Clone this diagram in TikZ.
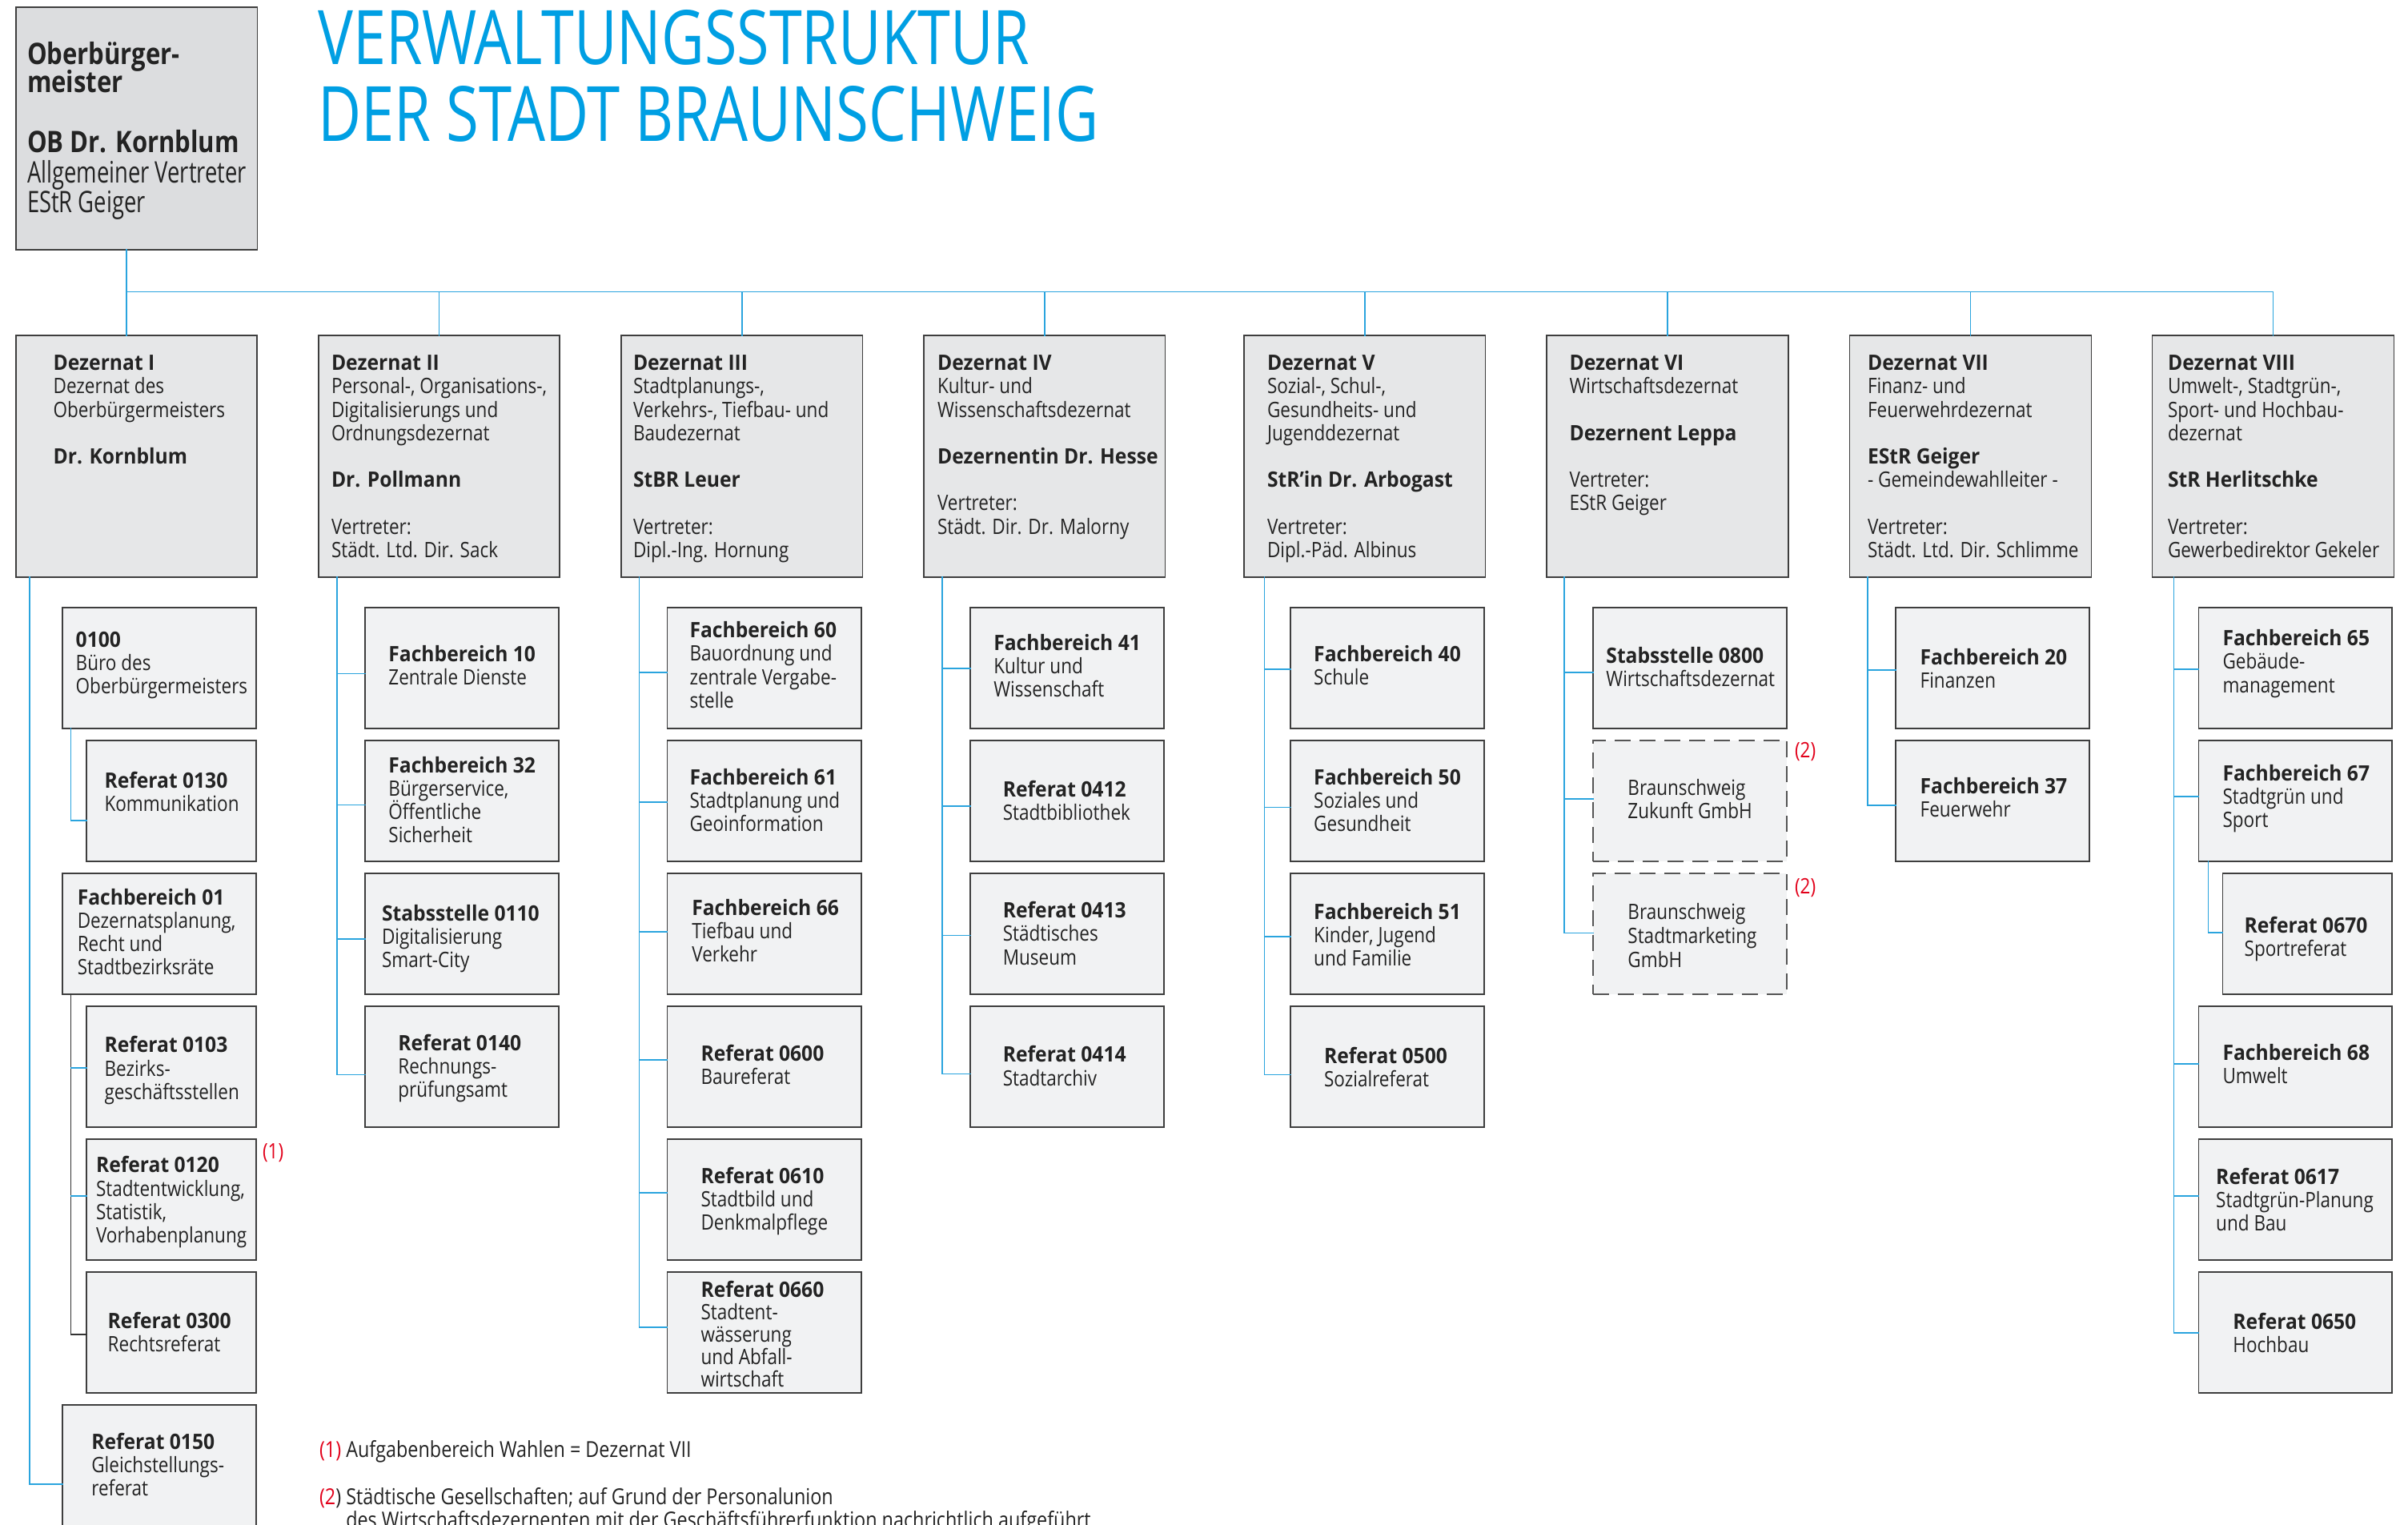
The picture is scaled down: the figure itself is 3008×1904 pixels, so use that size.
\documentclass[tikz,border=0pt]{standalone}
\usepackage{fontspec}
\usepackage{graphicx}
\setmainfont{Open Sans}[FakeStretch=0.85]
\newfontfamily\bdfam{Open Sans}[FakeStretch=0.93]
\newfontfamily\obfam{Open Sans}[FakeStretch=0.74]
\newfontfamily\obbdfam{Open Sans}[FakeStretch=0.84]
\newfontfamily\titlefam{Open Sans}
\definecolor{titleblue}{HTML}{009FE3}
\definecolor{connblue}{HTML}{2AA4DE}
\definecolor{boxline}{HTML}{3E3E3E}
\definecolor{dashline}{HTML}{555555}
\definecolor{obfill}{HTML}{DCDDDF}
\definecolor{dzfill}{HTML}{E6E7E8}
\definecolor{subfill}{HTML}{F1F2F3}
\definecolor{txtc}{HTML}{232323}
\definecolor{fnred}{HTML}{E2001A}
\definecolor{darkconn}{HTML}{333333}
\newcommand\B[1]{{\bdfam\bfseries #1}}
\newcommand\OB[1]{{\obbdfam\bfseries #1}}
\newcommand\lns[2][29.2]{\vtop{\baselineskip=#1pt\lineskiplimit=-1000pt\lineskip=0pt\halign{##\hfil\cr#2\crcr}}}
\newcommand\mkbox[5]{\node[#5, minimum width=#4pt] (#1) at (#2,#3) {};}
\newcommand\mktext[5][29.2]{\node[txt] (t#2) at (#3,#4) {\lns[#1]{#5}};}
\newcommand\mkstub[3]{\path ([yshift=#2pt]#1.west) ++(-#3,0) coordinate (e#1); \draw[conn] (e#1) -- (e#1 -| #1.west);}
\tikzset{
  basebox/.style={draw=boxline, line width=1.8pt, anchor=north west, inner sep=0pt, outer sep=0pt},
  obbox/.style={basebox, fill=obfill, minimum height=302.7pt},
  dzbox/.style={basebox, fill=dzfill, minimum height=302.3pt},
  subbox/.style={basebox, fill=subfill, minimum height=151.5pt},
  gbox/.style={subbox, draw=dashline, dash pattern=on 20pt off 11pt},
  txt/.style={anchor=base west, inner sep=0pt, outer sep=0pt, text=txtc, font=\fontsize{26.5}{29.2}\selectfont},
  fntxt/.style={anchor=base west, inner sep=0pt, outer sep=0pt, text=txtc, font=\fontsize{27.5}{29.5}\selectfont},
  obtxt/.style={anchor=base west, inner sep=0pt, outer sep=0pt, text=txtc, font=\obfam\fontsize{37}{37.5}\selectfont},
  redmark/.style={anchor=base west, inner sep=0pt, outer sep=0pt, text=fnred, font=\fontsize{26.5}{29.2}\selectfont},
  conn/.style={draw=connblue, line width=1.6pt, line cap=rect},
  dconn/.style={draw=darkconn, line width=1.6pt, line cap=rect},
}
\begin{document}
\begin{tikzpicture}[x=1pt,y=-1pt]
\useasboundingbox (0,0) rectangle (3008,1904);
\fill[white] (0,0) rectangle (3008,1904);

% Title
\node[anchor=base west, inner sep=0pt, text=titleblue] (title1) at (397,80) {\resizebox{889pt}{68pt}{\titlefam VERWALTUNGSSTRUKTUR}};
\node[anchor=base west, inner sep=0pt, text=titleblue] (title2) at (397,176) {\resizebox{975pt}{69pt}{\titlefam DER STADT BRAUNSCHWEIG}};

% Oberbuergermeister
\node[obbox, minimum width=301.8pt] (ob) at (19.6,9) {};
\node[obtxt] (tob1) at (34,80) {\lns[35]{\OB{Oberbürger-}\cr\OB{meister}}};
\node[obtxt] (tob2) at (34,190.7) {\lns[37.5]{\OB{OB Dr. Kornblum}\cr Allgemeiner Vertreter\cr EStR Geiger}};

% Dezernate
\mkbox{dz1}{19.6}{418.7}{301.5}{dzbox}
\mkbox{dz2}{397.8}{418.7}{301.5}{dzbox}
\mkbox{dz3}{776}{418.7}{301.5}{dzbox}
\mkbox{dz4}{1154}{418.7}{301.5}{dzbox}
\mkbox{dz5}{1554}{418.7}{301.5}{dzbox}
\mkbox{dz6}{1932}{418.7}{302}{dzbox}
\mkbox{dz7}{2310.5}{418.7}{302}{dzbox}
\mkbox{dz8}{2688.5}{418.7}{302}{dzbox}

\mktext{dz1}{66.6}{462.7}{\B{Dezernat I}\cr Dezernat des\cr Oberbürgermeisters\cr\cr \B{Dr. Kornblum}}
\mktext{dz2}{414}{462.7}{\B{Dezernat II}\cr Personal-, Organisations-,\cr Digitalisierungs und\cr Ordnungsdezernat\cr\cr \B{Dr. Pollmann}\cr\cr Vertreter:\cr Städt. Ltd. Dir. Sack}
\mktext{dz3}{791}{462.7}{\B{Dezernat III}\cr Stadtplanungs-,\cr Verkehrs-, Tiefbau- und\cr Baudezernat\cr\cr \B{StBR Leuer}\cr\cr Vertreter:\cr Dipl.-Ing. Hornung}
\mktext{dz4}{1171}{462.7}{\B{Dezernat IV}\cr Kultur- und\cr Wissenschaftsdezernat\cr\cr \B{Dezernentin Dr. Hesse}\cr\cr Vertreter:\cr Städt. Dir. Dr. Malorny}
\mktext{dz5}{1583}{462.7}{\B{Dezernat V}\cr Sozial-, Schul-,\cr Gesundheits- und\cr Jugenddezernat\cr\cr \B{StR’in Dr. Arbogast}\cr\cr Vertreter:\cr Dipl.-Päd. Albinus}
\mktext{dz6}{1960.5}{462.7}{\B{Dezernat VI}\cr Wirtschaftsdezernat\cr\cr \B{Dezernent Leppa}\cr\cr Vertreter:\cr EStR Geiger}
\mktext{dz7}{2333}{462.7}{\B{Dezernat VII}\cr Finanz- und\cr Feuerwehrdezernat\cr\cr \B{EStR Geiger}\cr - Gemeindewahlleiter -\cr\cr Vertreter:\cr Städt. Ltd. Dir. Schlimme}
\mktext{dz8}{2708}{462.7}{\B{Dezernat VIII}\cr Umwelt-, Stadtgrün-,\cr Sport- und Hochbau-\cr dezernat\cr\cr \B{StR Herlitschke}\cr\cr Vertreter:\cr Gewerbedirektor Gekeler}

% Top connectors
\coordinate (hl) at (157.8,364.5);
\coordinate (hr) at (dz8.north |- hl);
\draw[conn] (ob.south -| hl) -- (hl) -- (hr);
\draw[conn] (dz1.north -| hl) -- (hl);
\foreach \d in {dz2,dz3,dz4,dz5,dz6,dz7,dz8} {\draw[conn] (\d.north) -- (\d.north |- hl);}

% Column 1
\mkbox{b0100}{78}{758.7}{242}{subbox}
\mkbox{r0130}{108}{924.7}{212}{subbox}
\mkbox{f01}{78}{1090.7}{242}{subbox}
\mkbox{r0103}{108}{1256.7}{212}{subbox}
\mkbox{r0120}{108}{1422.7}{212}{subbox}
\mkbox{r0300}{108}{1588.7}{212}{subbox}
\mkbox{r0150}{78}{1754.7}{242}{subbox}
\mktext{b0100}{94.7}{808.3}{\B{0100}\cr Büro des\cr Oberbürgermeisters}
\mktext{r0130}{130.5}{984.3}{\B{Referat 0130}\cr Kommunikation}
\mktext{f01}{96.8}{1130}{\B{Fachbereich 01}\cr Dezernatsplanung,\cr Recht und\cr Stadtbezirksräte}
\mktext{r0103}{130.5}{1314.8}{\B{Referat 0103}\cr Bezirks-\cr geschäftsstellen}
\mktext{r0120}{120}{1464.9}{\B{Referat 0120}\cr Stadtentwicklung,\cr Statistik,\cr Vorhabenplanung}
\mktext{r0300}{134.7}{1659.2}{\B{Referat 0300}\cr Rechtsreferat}
\mktext{r0150}{114.3}{1810.2}{\B{Referat 0150}\cr Gleichstellungs-\cr referat}
\node[redmark] (m1) at (328,1447) {(1)};
\mkstub{r0150}{-23.55}{40.8}
\draw[conn] (dz1.south -| er0150) -- (er0150);
\mkstub{r0130}{-24.5}{19.6}
\draw[conn] (b0100.south -| er0130) -- (er0130);
\path ([yshift=-2.55pt]r0300.west) ++(-19.6,0) coordinate (er0300);
\draw[dconn] (f01.south -| er0300) -- (er0300) -- (er0300 -| r0300.west);
\mkstub{r0103}{-1.75}{19.6}
\mkstub{r0120}{4.45}{19.6}

% Column 2
\mkbox{f10}{456}{758.7}{242}{subbox}
\mkbox{f32}{456}{924.7}{242}{subbox}
\mkbox{s0110}{456}{1090.7}{242}{subbox}
\mkbox{r0140}{456}{1256.7}{242}{subbox}
\mktext{f10}{485.4}{826.7}{\B{Fachbereich 10}\cr Zentrale Dienste}
\mktext{f32}{485.4}{965}{\B{Fachbereich 32}\cr Bürgerservice,\cr Öffentliche\cr Sicherheit}
\mktext{s0110}{477}{1150}{\B{Stabsstelle 0110}\cr Digitalisierung\cr Smart-City}
\mktext{r0140}{497.4}{1312.5}{\B{Referat 0140}\cr Rechnungs-\cr prüfungsamt}
\mkstub{f10}{-6.85}{35}
\mkstub{f32}{-4.85}{35}
\mkstub{s0110}{-6.25}{35}
\mkstub{r0140}{-10.05}{35}
\draw[conn] (dz2.south -| ef10) -- (er0140);

% Column 3
\mkbox{f60}{833.4}{758.7}{242.6}{subbox}
\mkbox{f61}{833.4}{924.7}{242.6}{subbox}
\mkbox{f66}{833.4}{1090.7}{242.6}{subbox}
\mkbox{r0600}{833.4}{1256.7}{242.6}{subbox}
\mkbox{r0610}{833.4}{1422.7}{242.6}{subbox}
\mkbox{r0660}{833.4}{1588.7}{242.6}{subbox}
\mktext{f60}{861.5}{796.7}{\B{Fachbereich 60}\cr Bauordnung und\cr zentrale Vergabe-\cr stelle}
\mktext{f61}{861.5}{980}{\B{Fachbereich 61}\cr Stadtplanung und\cr Geoinformation}
\mktext{f66}{864.3}{1143.3}{\B{Fachbereich 66}\cr Tiefbau und\cr Verkehr}
\mktext{r0600}{875.5}{1325}{\B{Referat 0600}\cr Baureferat}
\mktext{r0610}{875.5}{1478.2}{\B{Referat 0610}\cr Stadtbild und\cr Denkmalpflege}
\mktext[28.2]{r0660}{875.5}{1620}{\B{Referat 0660}\cr Stadtent-\cr wässerung\cr und Abfall-\cr wirtschaft}
\mkstub{f60}{-5.25}{35.1}
\mkstub{f61}{-1.25}{35.1}
\mkstub{f66}{2.45}{35.1}
\mkstub{r0600}{8.45}{35.1}
\mkstub{r0610}{8.45}{35.1}
\mkstub{r0660}{6.45}{35.1}
\draw[conn] (dz3.south -| ef60) -- (er0660);

% Column 4
\mkbox{f41}{1212}{758.7}{242.3}{subbox}
\mkbox{r0412}{1212}{924.7}{242.3}{subbox}
\mkbox{r0413}{1212}{1090.7}{242.3}{subbox}
\mkbox{r0414}{1212}{1256.7}{242.3}{subbox}
\mktext{f41}{1241.3}{812.3}{\B{Fachbereich 41}\cr Kultur und\cr Wissenschaft}
\mktext{r0412}{1252.8}{995}{\B{Referat 0412}\cr Stadtbibliothek}
\mktext{r0413}{1252.8}{1146.7}{\B{Referat 0413}\cr Städtisches\cr Museum}
\mktext{r0414}{1252.8}{1326.8}{\B{Referat 0414}\cr Stadtarchiv}
\mkstub{f41}{-0.25}{35}
\mkstub{r0412}{-6.25}{35}
\mkstub{r0413}{-1.85}{35}
\mkstub{r0414}{-9.15}{35}
\draw[conn] (dz4.south -| ef41) -- (er0414);

% Column 5
\mkbox{f40}{1612}{758.7}{242.2}{subbox}
\mkbox{f50}{1612}{924.7}{242.2}{subbox}
\mkbox{f51}{1612}{1090.7}{242.2}{subbox}
\mkbox{r0500}{1612}{1256.7}{242.2}{subbox}
\mktext{f40}{1641.2}{826}{\B{Fachbereich 40}\cr Schule}
\mktext{f50}{1641.2}{980}{\B{Fachbereich 50}\cr Soziales und\cr Gesundheit}
\mktext{f51}{1641.2}{1148.3}{\B{Fachbereich 51}\cr Kinder, Jugend\cr und Familie}
\mktext{r0500}{1654}{1328.7}{\B{Referat 0500}\cr Sozialreferat}
\mkstub{f40}{-1.55}{32.7}
\mkstub{f50}{-7.85}{32.7}
\mkstub{f51}{-3.55}{32.7}
\mkstub{r0500}{-10.05}{32.7}
\draw[conn] (dz5.south -| ef40) -- (er0500);

% Column 6
\mkbox{s0800}{1990}{758.7}{242}{subbox}
\mkbox{gz}{1990}{924.7}{242}{gbox}
\mkbox{gs}{1990}{1090.7}{242}{gbox}
\mktext{s0800}{2006.4}{828.3}{\B{Stabsstelle 0800}\cr Wirtschaftsdezernat}
\mktext{gz}{2033.4}{993.3}{Braunschweig\cr Zukunft GmbH}
\mktext[30]{gs}{2033.4}{1148.3}{Braunschweig\cr Stadtmarketing\cr GmbH}
\node[redmark] (m2a) at (2242,946.7) {(2)};
\node[redmark] (m2b) at (2242,1116.7) {(2)};
\mkstub{s0800}{-5.55}{36.3}
\mkstub{gz}{2.75}{36.3}
\mkstub{gs}{1.15}{36.3}
\draw[conn] (dz6.south -| es0800) -- (egs);

% Column 7
\mkbox{f20}{2368.3}{758.7}{241.7}{subbox}
\mkbox{f37}{2368.3}{924.7}{241.7}{subbox}
\mktext{f20}{2398.6}{830}{\B{Fachbereich 20}\cr Finanzen}
\mktext{f37}{2398.6}{991}{\B{Fachbereich 37}\cr Feuerwehr}
\mkstub{f20}{-2.25}{35.3}
\mkstub{f37}{-5.55}{35.3}
\draw[conn] (dz7.south -| ef20) -- (ef37);

% Column 8
\mkbox{f65}{2746.4}{758.7}{241.6}{subbox}
\mkbox{f67}{2746.4}{924.7}{241.6}{subbox}
\mkbox{r0670}{2776.5}{1090.7}{211.5}{subbox}
\mkbox{f68}{2746.4}{1256.7}{241.6}{subbox}
\mkbox{r0617}{2746.4}{1422.7}{241.6}{subbox}
\mkbox{r0650}{2746.4}{1588.7}{241.6}{subbox}
\mktext{f65}{2776.5}{806.7}{\B{Fachbereich 65}\cr Gebäude-\cr management}
\mktext{f67}{2776.5}{975}{\B{Fachbereich 67}\cr Stadtgrün und\cr Sport}
\mktext{r0670}{2803.6}{1165}{\B{Referat 0670}\cr Sportreferat}
\mktext{f68}{2776.5}{1324}{\B{Fachbereich 68}\cr Umwelt}
\mktext{r0617}{2768.2}{1479.2}{\B{Referat 0617}\cr Stadtgrün-Planung\cr und Bau}
\mktext{r0650}{2789.4}{1660.1}{\B{Referat 0650}\cr Hochbau}
\mkstub{f65}{-1.25}{30.9}
\mkstub{f67}{5.45}{30.9}
\mkstub{f68}{3.45}{30.9}
\mkstub{r0617}{4.45}{30.9}
\mkstub{r0650}{-0.35}{30.9}
\draw[conn] (dz8.south -| ef65) -- (er0650);
\mkstub{r0670}{1.45}{18}
\draw[conn] (f67.south -| er0670) -- (er0670);

% Footnotes
\node[fntxt] (fn1) at (399,1820) {{\color{fnred}(1)} Aufgabenbereich Wahlen = Dezernat VII};
\node[fntxt] (fn2) at (399,1879) {\lns[29.5]{{\color{fnred}(2}) Städtische Gesellschaften; auf Grund der Personalunion\cr \hphantom{(2) }des Wirtschaftsdezernenten mit der Geschäftsführerfunktion nachrichtlich aufgeführt}};
\end{tikzpicture}
\end{document}
